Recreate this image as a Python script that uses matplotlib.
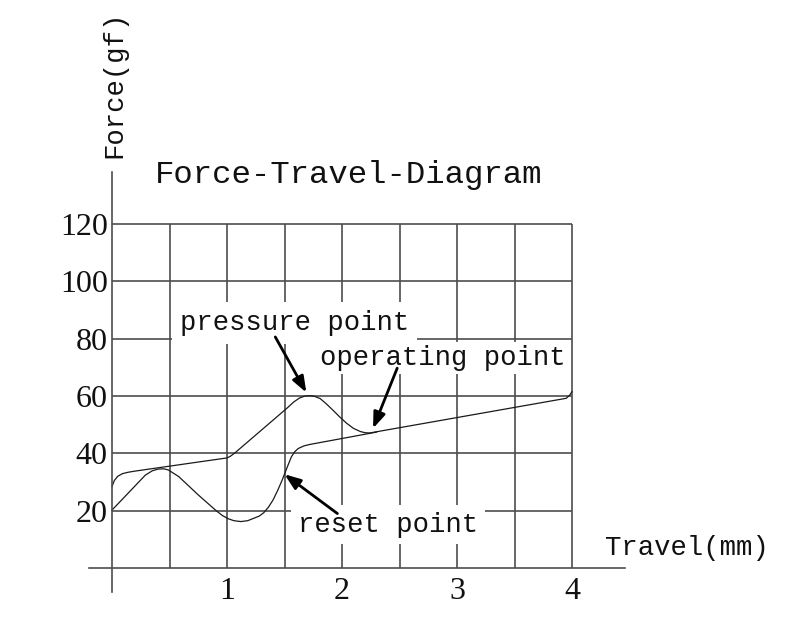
import matplotlib.pyplot as plt

plt.rcParams['font.family'] = ['Liberation Serif', 'DejaVu Serif']
MONO = 'Liberation Mono'

# axis ticks / grid
x_ticks = [1, 2, 3, 4]
y_ticks = [20, 40, 60, 80, 100, 120]
grid_x = [0.5, 1, 1.5, 2, 2.5, 3, 3.5, 4]

# press curve (with tactile bump)
press_travel = [0.0, 0.02, 0.05, 0.09, 0.14, 0.20, 1.00, 1.03, 1.07, 1.52, 1.58, 1.63,
                1.68, 1.72, 1.76, 1.81, 1.86, 1.92, 1.98, 2.04, 2.10, 2.16, 2.20, 2.24,
                3.95, 3.98, 4.00]
press_force = [28.4, 30.5, 32.0, 32.9, 33.4, 33.8, 38.4, 39.0, 40.2, 55.7, 57.9, 59.3,
               60.0, 60.1, 59.9, 59.1, 57.4, 55.1, 52.7, 50.5, 48.7, 47.6, 47.2, 47.1,
               59.2, 60.3, 61.5]

# return curve
release_travel = [0.0, 0.29, 0.35, 0.40, 0.45, 0.49, 0.58, 0.75, 0.90, 0.96, 1.01, 1.06,
                  1.12, 1.18, 1.23, 1.28, 1.32, 1.36, 1.40, 1.44, 1.48, 1.52, 1.56, 1.59,
                  1.62, 1.67, 1.72, 2.30]
release_force = [20.2, 32.4, 33.9, 34.5, 34.6, 34.2, 31.9, 25.5, 20.2, 18.3, 17.2, 16.5,
                 16.2, 16.5, 17.3, 18.1, 19.3, 21.2, 23.7, 27.0, 30.7, 34.8, 38.8, 40.6,
                 41.7, 42.6, 43.1, 47.4]

# callouts: label, label position, arrow tail, arrow tip
labels = ['pressure point', 'operating point', 'reset point']
label_pos = [(0.59, 83.0), (1.81, 70.8), (1.62, 12.7)]
arrow_tail = [(1.42, 80.6), (2.48, 69.7), (1.96, 19.0)]
arrow_tip = [(1.69, 61.2), (2.27, 48.7), (1.50, 32.7)]
label_pad = [0.3, 0.1, 0.25]

px_x = 115.0
px_y = 344 / 120.0

fig = plt.figure(figsize=(8, 6.41), dpi=100)
ax = fig.add_axes([0, 0, 1, 1])
ax.set_xlim(-112 / px_x, 688 / px_x)
ax.set_ylim(-73 / px_y, 568 / px_y)

grid_c = '#4d4d4d'
for side in ['top', 'right']:
    ax.spines[side].set_visible(False)
ax.spines['left'].set_position(('data', 0))
ax.spines['bottom'].set_position(('data', 0))
ax.spines['left'].set_bounds(-8.4, 138)
ax.spines['bottom'].set_bounds(-0.2, 4.46)
for side in ['left', 'bottom']:
    ax.spines[side].set_color(grid_c)
    ax.spines[side].set_linewidth(1.2)

ax.set_xticks(x_ticks)
ax.set_yticks(y_ticks)
ax.tick_params(axis='both', length=0, labelsize=23, colors='#111111')
ax.tick_params(axis='x', pad=6.5)
ax.tick_params(axis='y', pad=3)

ax.vlines(grid_x, 0, 120, color=grid_c, lw=1.2, zorder=1)
ax.hlines(y_ticks, 0, 4, color=grid_c, lw=1.2, zorder=1)

ax.plot(press_travel, press_force, color='#1a1a1a', lw=0.9, zorder=2)
ax.plot(release_travel, release_force, color='#1a1a1a', lw=0.9, zorder=2)

for txt, pos, pad in zip(labels, label_pos, label_pad):
    ax.text(pos[0], pos[1], txt, family=MONO, fontsize=19.6, ha='left', va='baseline',
            color='#111111', zorder=3,
            bbox=dict(boxstyle=f'square,pad={pad}', fc='white', ec='none'))

for tail, tip in zip(arrow_tail, arrow_tip):
    ax.annotate('', xy=tip, xytext=tail, zorder=4,
                arrowprops=dict(arrowstyle='-|>,head_length=0.8,head_width=0.3',
                                color='black', lw=2, mutation_scale=12,
                                shrinkA=0, shrinkB=0))

ax.text(2.06, 134.3, 'Force-Travel-Diagram', family=MONO, fontsize=23.3,
        ha='center', va='baseline', color='#111111')
ax.text(4.29, 4.5, 'Travel(mm)', family=MONO, fontsize=19.6,
        ha='left', va='baseline', color='#111111')
ax.text(0.02, 143, 'Force(gf)', family=MONO, fontsize=19.6, rotation=90,
        ha='center', va='bottom', color='#111111')

fig.savefig('out.png', dpi=100)
